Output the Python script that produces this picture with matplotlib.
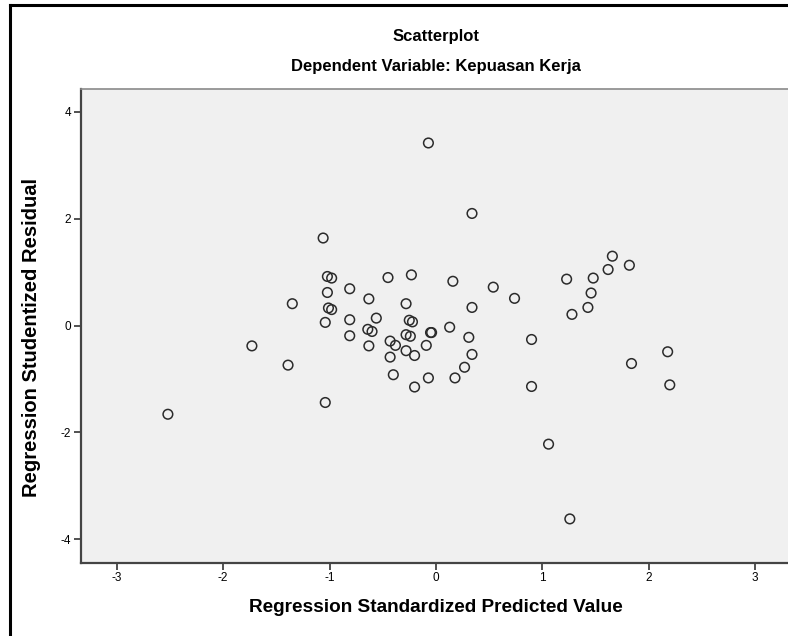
"""SPSS-style residual scatterplot: studentized residual vs standardized predicted value."""

import matplotlib

matplotlib.use("Agg")
import matplotlib.pyplot as plt
from matplotlib.lines import Line2D

# Regression Standardized Predicted Value
pred_std = [
    -1.06, -1.02, -0.98, -0.45, -0.23, -0.81, -1.02, -0.63, -1.35, -0.28,
    -1.01, -0.98, -1.04, -0.81, -0.56, -0.25, -0.22, -0.64, -0.60, -0.81,
    -0.63, -0.43, -0.38, -0.28, -0.24, -0.05, -0.04, -0.09, -0.43, -0.28,
    -0.20, -0.40, -0.07, -0.20, -1.04, 0.16, 0.54, 0.74, 0.34, 0.13,
    0.31, 0.90, 0.34, 0.27, 0.18, 0.90, -0.07, 0.34, 1.66, 1.82,
    1.62, 1.23, 1.48, 1.46, 1.43, 1.28, 1.06, 1.26, 1.84, 2.18,
    2.20, -2.52, -1.73, -1.39,
]
# Regression Studentized Residual
resid_stud = [
    1.64, 0.92, 0.89, 0.90, 0.95, 0.69, 0.62, 0.50, 0.41, 0.41,
    0.33, 0.30, 0.06, 0.11, 0.14, 0.10, 0.07, -0.07, -0.11, -0.19,
    -0.38, -0.29, -0.37, -0.17, -0.20, -0.13, -0.13, -0.37, -0.59, -0.47,
    -0.56, -0.92, -0.98, -1.15, -1.44, 0.83, 0.72, 0.51, 0.34, -0.03,
    -0.22, -0.26, -0.54, -0.78, -0.98, -1.14, 3.42, 2.10, 1.30, 1.13,
    1.05, 0.87, 0.89, 0.61, 0.34, 0.21, -2.22, -3.62, -0.71, -0.49,
    -1.11, -1.66, -0.38, -0.74,
]
x_ticks = [-3, -2, -1, 0, 1, 2, 3]
y_ticks = [-4, -2, 0, 2, 4]

plt.rcParams["font.family"] = ["Liberation Sans Narrow", "Liberation Sans", "DejaVu Sans"]
plt.rcParams["axes.unicode_minus"] = False  # SPSS prints a plain hyphen

W, H = 788, 636
fig = plt.figure(figsize=(W / 100, H / 100), dpi=100)
fig.patch.set_facecolor("white")

# axes box in pixels: left 81, right ~791 (clipped by image edge), top 88.5, bottom 562.7
left, right, top, bottom = 80.7, 791.0, 88.5, 562.7
ax = fig.add_axes([left / W, 1 - bottom / H, (right - left) / W, (bottom - top) / H])
ax.set_facecolor("#f0f0f0")

ax.scatter(pred_std, resid_stud, s=48, facecolors="none", edgecolors="#2b2b2b",
           linewidths=1.1, zorder=3)

ax.set_xlim(-3.34, 3.34)
ax.set_ylim(-4.44, 4.44)
ax.set_xticks(x_ticks)
ax.set_yticks(y_ticks)
ax.tick_params(axis="both", direction="out", length=5, width=1.2, color="#333333",
               labelsize=8.5, labelcolor="black", pad=2)

for side in ("left", "bottom"):
    ax.spines[side].set_color("#444444")
    ax.spines[side].set_linewidth(1.6)
ax.spines["top"].set_color("#8a8a8a")
ax.spines["top"].set_linewidth(1.2)
ax.spines["right"].set_visible(False)

# titles centred on the plot box
cx = (left + right) / 2 / W
fig.text(cx, 1 - 37 / H, "Scatterplot", ha="center", va="center",
         fontsize=12, fontweight="bold")
fig.text(cx, 1 - 66 / H, "Dependent Variable: Kepuasan Kerja", ha="center",
         va="center", fontsize=12, fontweight="bold")
fig.text(cx, 1 - 608 / H, "Regression Standardized Predicted Value", ha="center",
         va="center", fontsize=13.7, fontweight="bold")
fig.text(32 / W, 1 - 337 / H, "Regression Studentized Residual", ha="center",
         va="center", rotation=90, fontsize=14.5, fontweight="bold")

# outer black frame (left and top edges visible in the crop)
fig.add_artist(Line2D([10 / W, 10 / W], [0, 1 - 5 / H], color="black", linewidth=2.2,
                      transform=fig.transFigure))
fig.add_artist(Line2D([10 / W, 1], [1 - 5 / H, 1 - 5 / H], color="black", linewidth=2.2,
                      transform=fig.transFigure))

fig.savefig("out.png", dpi=100)
